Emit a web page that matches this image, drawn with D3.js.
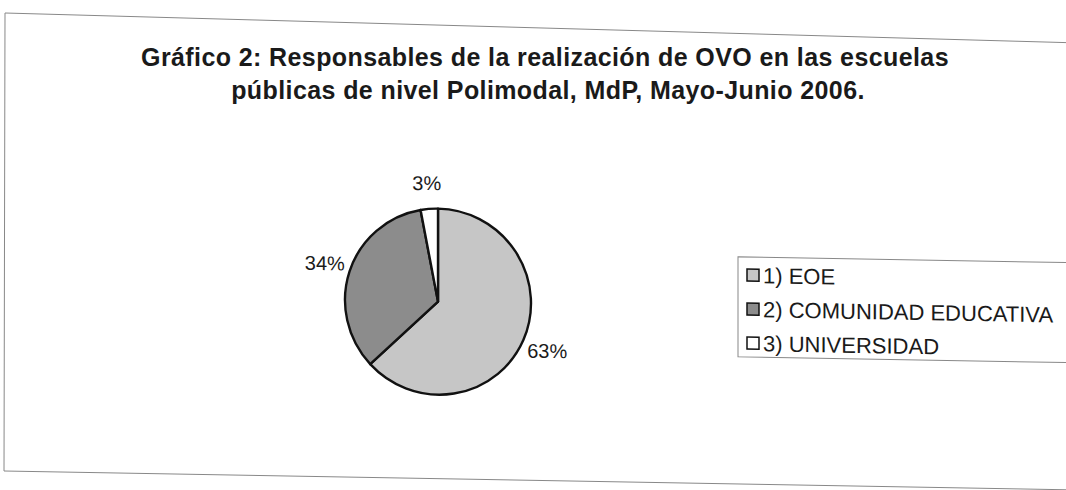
<!DOCTYPE html>
<html>
<head>
<meta charset="utf-8">
<script src="https://cdn.jsdelivr.net/npm/d3@7"></script>
<style>
  body { margin: 0; background: #fff; }
  text { font-family: "Liberation Sans", Arial, sans-serif; fill: #1a1a1a; }
</style>
</head>
<body>
<div id="chart-area"></div>
<script>
const WIDTH = 1066
const HEIGHT = 490

// data
const categories = ["1) EOE", "2) COMUNIDAD EDUCATIVA", "3) UNIVERSIDAD"]
const values = [63, 34, 3]
const colors = ["#c6c6c6", "#8c8c8c", "#ffffff"]
const titleLines = [
  "Gráfico 2: Responsables de la realización de OVO en las escuelas",
  "públicas de nivel Polimodal, MdP, Mayo-Junio 2006."
]

const svg = d3.select("#chart-area").append("svg")
  .attr("width", WIDTH)
  .attr("height", HEIGHT)

// outer frame of the scanned page (not square on the scan)
svg.append("path")
  .attr("d", "M5,13 L1080,43 M5,13 L4,471 L1080,490")
  .attr("fill", "none")
  .attr("stroke", "#888")
  .attr("stroke-width", 1)

// title kept level so the two lines don't collide
svg.selectAll(".title")
  .data(titleLines)
  .enter().append("text")
  .attr("class", "title")
  .attr("x", (d, i) => i === 0 ? 545 : 548)
  .attr("y", (d, i) => i === 0 ? 66 : 98.5)
  .attr("text-anchor", "middle")
  .attr("font-size", 25)
  .attr("font-weight", "bold")
  .attr("letter-spacing", 0.4)
  .text(d => d)

// the scan is a bit tilted, skew the chart body a little
const page = svg.append("g")
  .attr("transform", "skewY(1)")

// pie
const R = 93
const g = page.append("g")
  .attr("transform", "translate(438, 294)")

const pie = d3.pie().sort(null)
const arcs = pie(values)
const arc = d3.arc().innerRadius(0).outerRadius(R)
const labelArc = d3.arc().innerRadius(119).outerRadius(119)

g.selectAll("path")
  .data(arcs)
  .enter().append("path")
  .attr("d", arc)
  .attr("fill", (d, i) => colors[i])
  .attr("stroke", "#111")
  .attr("stroke-width", 2.4)
  .attr("stroke-linejoin", "round")

g.selectAll(".lbl")
  .data(arcs)
  .enter().append("text")
  .attr("class", "lbl")
  .attr("transform", d => `translate(${labelArc.centroid(d)})`)
  .attr("text-anchor", "middle")
  .attr("dy", "0.36em")
  .attr("font-size", 20)
  .text(d => d.data + "%")

// legend
const legend = page.append("g")
  .attr("transform", "translate(738, 244)")

legend.append("rect")
  .attr("x", 0).attr("y", 0)
  .attr("width", 400).attr("height", 100)
  .attr("fill", "#fff")
  .attr("stroke", "#888")
  .attr("stroke-width", 1)

const item = legend.selectAll(".item")
  .data(categories)
  .enter().append("g")
  .attr("class", "item")
  .attr("transform", (d, i) => `translate(9, ${26 + i * 34})`)

item.append("rect")
  .attr("x", 0).attr("y", -14)
  .attr("width", 12).attr("height", 12)
  .attr("fill", (d, i) => colors[i])
  .attr("stroke", "#111")
  .attr("stroke-width", 1.5)

item.append("text")
  .attr("x", 16)
  .attr("y", 0)
  .attr("font-size", 22)
  .text(d => d)
</script>
</body>
</html>
